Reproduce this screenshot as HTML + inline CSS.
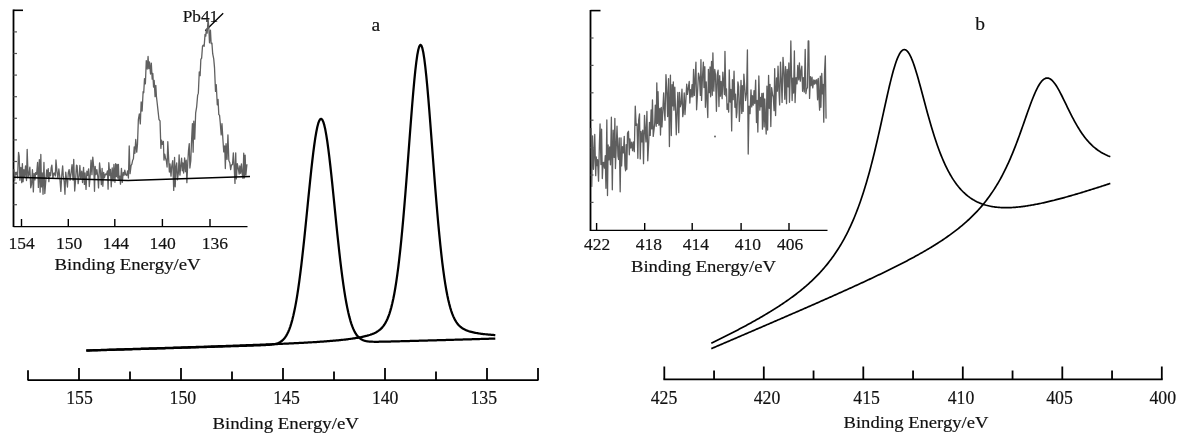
<!DOCTYPE html>
<html><head><meta charset="utf-8"><title>XPS spectra</title>
<style>
html,body{margin:0;padding:0;background:#fff;}
body{width:1185px;height:436px;overflow:hidden;font-family:"Liberation Serif",serif;}
svg{display:block;filter:blur(0.35px);}
svg text{font-family:"Liberation Serif",serif;fill:#111;stroke:#111;stroke-width:0.18;}
</style></head><body>
<svg width="1185" height="436" viewBox="0 0 1185 436">
<rect width="1185" height="436" fill="#fff"/>
<line x1="27.50" y1="380.10" x2="538.50" y2="380.10" stroke="#000" stroke-width="1.8"/>
<line x1="28.00" y1="380.10" x2="28.00" y2="370.20" stroke="#000" stroke-width="1.8"/>
<line x1="79.00" y1="380.10" x2="79.00" y2="368.00" stroke="#000" stroke-width="1.8"/>
<line x1="130.00" y1="380.10" x2="130.00" y2="371.50" stroke="#000" stroke-width="1.8"/>
<line x1="181.00" y1="380.10" x2="181.00" y2="368.00" stroke="#000" stroke-width="1.8"/>
<line x1="232.00" y1="380.10" x2="232.00" y2="371.50" stroke="#000" stroke-width="1.8"/>
<line x1="283.00" y1="380.10" x2="283.00" y2="368.00" stroke="#000" stroke-width="1.8"/>
<line x1="334.00" y1="380.10" x2="334.00" y2="371.50" stroke="#000" stroke-width="1.8"/>
<line x1="385.00" y1="380.10" x2="385.00" y2="368.00" stroke="#000" stroke-width="1.8"/>
<line x1="436.00" y1="380.10" x2="436.00" y2="371.50" stroke="#000" stroke-width="1.8"/>
<line x1="487.00" y1="380.10" x2="487.00" y2="368.00" stroke="#000" stroke-width="1.8"/>
<line x1="538.00" y1="380.10" x2="538.00" y2="368.00" stroke="#000" stroke-width="1.8"/>
<text x="79.50" y="404.10" font-size="18.3" text-anchor="middle" textLength="26.6" lengthAdjust="spacingAndGlyphs">155</text>
<text x="182.90" y="404.10" font-size="18.3" text-anchor="middle" textLength="26.6" lengthAdjust="spacingAndGlyphs">150</text>
<text x="286.50" y="404.10" font-size="18.3" text-anchor="middle" textLength="26.6" lengthAdjust="spacingAndGlyphs">145</text>
<text x="385.20" y="404.10" font-size="18.3" text-anchor="middle" textLength="26.6" lengthAdjust="spacingAndGlyphs">140</text>
<text x="483.80" y="404.10" font-size="18.3" text-anchor="middle" textLength="26.6" lengthAdjust="spacingAndGlyphs">135</text>
<text x="285.70" y="428.50" font-size="17.5" text-anchor="middle" textLength="146.5" lengthAdjust="spacingAndGlyphs">Binding Energy/eV</text>
<text x="375.80" y="30.60" font-size="19.5" text-anchor="middle">a</text>
<path d="M86.30,350.60 L87.30,350.58 L88.30,350.55 L89.30,350.52 L90.30,350.49 L91.30,350.46 L92.30,350.43 L93.30,350.40 L94.30,350.37 L95.30,350.34 L96.30,350.31 L97.30,350.28 L98.30,350.25 L99.30,350.22 L100.30,350.19 L101.30,350.16 L102.30,350.13 L103.30,350.10 L104.30,350.07 L105.30,350.04 L106.30,350.01 L107.30,349.98 L108.30,349.95 L109.30,349.92 L110.30,349.90 L111.30,349.87 L112.30,349.84 L113.30,349.81 L114.30,349.78 L115.30,349.75 L116.30,349.72 L117.30,349.69 L118.30,349.66 L119.30,349.63 L120.30,349.60 L121.30,349.57 L122.30,349.54 L123.30,349.51 L124.30,349.48 L125.30,349.45 L126.30,349.42 L127.30,349.39 L128.30,349.36 L129.30,349.33 L130.30,349.30 L131.30,349.27 L132.30,349.24 L133.30,349.21 L134.30,349.18 L135.30,349.15 L136.30,349.12 L137.30,349.10 L138.30,349.07 L139.30,349.04 L140.30,349.01 L141.30,348.98 L142.30,348.95 L143.30,348.92 L144.30,348.89 L145.30,348.86 L146.30,348.83 L147.30,348.80 L148.30,348.77 L149.30,348.74 L150.30,348.71 L151.30,348.68 L152.30,348.65 L153.30,348.62 L154.30,348.59 L155.30,348.56 L156.30,348.53 L157.30,348.50 L158.30,348.47 L159.30,348.44 L160.30,348.41 L161.30,348.38 L162.30,348.35 L163.30,348.32 L164.30,348.29 L165.30,348.26 L166.30,348.23 L167.30,348.20 L168.30,348.17 L169.30,348.14 L170.30,348.11 L171.30,348.08 L172.30,348.05 L173.30,348.02 L174.30,347.99 L175.30,347.96 L176.30,347.93 L177.30,347.90 L178.30,347.87 L179.30,347.84 L180.30,347.81 L181.30,347.78 L182.30,347.75 L183.30,347.72 L184.30,347.69 L185.30,347.66 L186.30,347.63 L187.30,347.60 L188.30,347.57 L189.30,347.54 L190.30,347.51 L191.30,347.48 L192.30,347.45 L193.30,347.42 L194.30,347.39 L195.30,347.36 L196.30,347.33 L197.30,347.30 L198.30,347.27 L199.30,347.24 L200.30,347.21 L201.30,347.18 L202.30,347.15 L203.30,347.12 L204.30,347.09 L205.30,347.06 L206.30,347.03 L207.30,347.00 L208.30,346.97 L209.30,346.94 L210.30,346.90 L211.30,346.87 L212.30,346.84 L213.30,346.81 L214.30,346.78 L215.30,346.75 L216.30,346.72 L217.30,346.69 L218.30,346.66 L219.30,346.63 L220.30,346.60 L221.30,346.57 L222.30,346.53 L223.30,346.50 L224.30,346.47 L225.30,346.44 L226.30,346.41 L227.30,346.38 L228.30,346.35 L229.30,346.31 L230.30,346.28 L231.30,346.25 L232.30,346.22 L233.30,346.19 L234.30,346.16 L235.30,346.12 L236.30,346.09 L237.30,346.06 L238.30,346.03 L239.30,346.00 L240.30,345.96 L241.30,345.93 L242.30,345.90 L243.30,345.87 L244.30,345.83 L245.30,345.80 L246.30,345.77 L247.30,345.73 L248.30,345.70 L249.30,345.67 L250.30,345.63 L251.30,345.60 L252.30,345.56 L253.30,345.53 L254.30,345.49 L255.30,345.46 L256.30,345.42 L257.30,345.39 L258.30,345.35 L259.30,345.31 L260.30,345.27 L261.30,345.23 L262.30,345.19 L263.30,345.15 L264.30,345.10 L265.30,345.05 L266.30,344.99 L267.30,344.93 L268.30,344.86 L269.30,344.78 L270.30,344.69 L271.30,344.58 L272.30,344.46 L273.30,344.31 L274.30,344.13 L275.30,343.91 L276.30,343.65 L277.30,343.33 L278.30,342.95 L279.30,342.50 L280.30,341.95 L281.30,341.29 L282.30,340.50 L283.30,339.56 L284.30,338.45 L285.30,337.13 L286.30,335.60 L287.30,333.80 L288.30,331.72 L289.30,329.31 L290.30,326.56 L291.30,323.41 L292.30,319.85 L293.30,315.84 L294.30,311.35 L295.30,306.36 L296.30,300.85 L297.30,294.81 L298.30,288.23 L299.30,281.11 L300.30,273.47 L301.30,265.33 L302.30,256.73 L303.30,247.70 L304.30,238.31 L305.30,228.64 L306.30,218.75 L307.30,208.74 L308.30,198.72 L309.30,188.79 L310.30,179.07 L311.30,169.68 L312.30,160.75 L313.30,152.40 L314.30,144.74 L315.30,137.90 L316.30,131.97 L317.30,127.05 L318.30,123.22 L319.30,120.53 L320.30,119.04 L321.30,118.76 L322.30,119.71 L323.30,121.87 L324.30,125.19 L325.30,129.62 L326.30,135.10 L327.30,141.53 L328.30,148.82 L329.30,156.85 L330.30,165.50 L331.30,174.66 L332.30,184.20 L333.30,194.00 L334.30,203.94 L335.30,213.91 L336.30,223.80 L337.30,233.52 L338.30,242.97 L339.30,252.09 L340.30,260.81 L341.30,269.08 L342.30,276.86 L343.30,284.13 L344.30,290.87 L345.30,297.07 L346.30,302.73 L347.30,307.87 L348.30,312.50 L349.30,316.64 L350.30,320.32 L351.30,323.57 L352.30,326.41 L353.30,328.90 L354.30,331.05 L355.30,332.89 L356.30,334.47 L357.30,335.81 L358.30,336.94 L359.30,337.89 L360.30,338.68 L361.30,339.33 L362.30,339.86 L363.30,340.29 L364.30,340.64 L365.30,340.92 L366.30,341.15 L367.30,341.32 L368.30,341.46 L369.30,341.56 L370.30,341.64 L371.30,341.69 L372.30,341.73 L373.30,341.75 L374.30,341.77 L375.30,341.77 L376.30,341.77 L377.30,341.77 L378.30,341.76 L379.30,341.74 L380.30,341.73 L381.30,341.71 L382.30,341.69 L383.30,341.67 L384.30,341.65 L385.30,341.63 L386.30,341.60 L387.30,341.58 L388.30,341.56 L389.30,341.53 L390.30,341.51 L391.30,341.48 L392.30,341.46 L393.30,341.43 L394.30,341.41 L395.30,341.38 L396.30,341.36 L397.30,341.33 L398.30,341.31 L399.30,341.28 L400.30,341.25 L401.30,341.23 L402.30,341.20 L403.30,341.17 L404.30,341.15 L405.30,341.12 L406.30,341.09 L407.30,341.07 L408.30,341.04 L409.30,341.01 L410.30,340.99 L411.30,340.96 L412.30,340.93 L413.30,340.90 L414.30,340.88 L415.30,340.85 L416.30,340.82 L417.30,340.79 L418.30,340.77 L419.30,340.74 L420.30,340.71 L421.30,340.68 L422.30,340.66 L423.30,340.63 L424.30,340.60 L425.30,340.57 L426.30,340.54 L427.30,340.52 L428.30,340.49 L429.30,340.46 L430.30,340.43 L431.30,340.40 L432.30,340.38 L433.30,340.35 L434.30,340.32 L435.30,340.29 L436.30,340.26 L437.30,340.23 L438.30,340.21 L439.30,340.18 L440.30,340.15 L441.30,340.12 L442.30,340.09 L443.30,340.06 L444.30,340.04 L445.30,340.01 L446.30,339.98 L447.30,339.95 L448.30,339.92 L449.30,339.89 L450.30,339.86 L451.30,339.84 L452.30,339.81 L453.30,339.78 L454.30,339.75 L455.30,339.72 L456.30,339.69 L457.30,339.66 L458.30,339.63 L459.30,339.61 L460.30,339.58 L461.30,339.55 L462.30,339.52 L463.30,339.49 L464.30,339.46 L465.30,339.43 L466.30,339.40 L467.30,339.37 L468.30,339.35 L469.30,339.32 L470.30,339.29 L471.30,339.26 L472.30,339.23 L473.30,339.20 L474.30,339.17 L475.30,339.14 L476.30,339.11 L477.30,339.09 L478.30,339.06 L479.30,339.03 L480.30,339.00 L481.30,338.97 L482.30,338.94 L483.30,338.91 L484.30,338.88 L485.30,338.85 L486.30,338.82 L487.30,338.80 L488.30,338.77 L489.30,338.74 L490.30,338.71 L491.30,338.68 L492.30,338.65 L493.30,338.62 L494.30,338.59 L495.30,338.56" fill="none" stroke="#000" stroke-width="2.25" stroke-linejoin="round" stroke-linecap="butt" />
<path d="M86.30,350.44 L87.30,350.41 L88.30,350.38 L89.30,350.35 L90.30,350.32 L91.30,350.28 L92.30,350.25 L93.30,350.22 L94.30,350.19 L95.30,350.16 L96.30,350.13 L97.30,350.10 L98.30,350.07 L99.30,350.04 L100.30,350.01 L101.30,349.98 L102.30,349.95 L103.30,349.92 L104.30,349.89 L105.30,349.86 L106.30,349.83 L107.30,349.79 L108.30,349.76 L109.30,349.73 L110.30,349.70 L111.30,349.67 L112.30,349.64 L113.30,349.61 L114.30,349.58 L115.30,349.55 L116.30,349.52 L117.30,349.49 L118.30,349.46 L119.30,349.42 L120.30,349.39 L121.30,349.36 L122.30,349.33 L123.30,349.30 L124.30,349.27 L125.30,349.24 L126.30,349.21 L127.30,349.18 L128.30,349.15 L129.30,349.11 L130.30,349.08 L131.30,349.05 L132.30,349.02 L133.30,348.99 L134.30,348.96 L135.30,348.93 L136.30,348.90 L137.30,348.87 L138.30,348.83 L139.30,348.80 L140.30,348.77 L141.30,348.74 L142.30,348.71 L143.30,348.68 L144.30,348.65 L145.30,348.62 L146.30,348.58 L147.30,348.55 L148.30,348.52 L149.30,348.49 L150.30,348.46 L151.30,348.43 L152.30,348.40 L153.30,348.36 L154.30,348.33 L155.30,348.30 L156.30,348.27 L157.30,348.24 L158.30,348.21 L159.30,348.17 L160.30,348.14 L161.30,348.11 L162.30,348.08 L163.30,348.05 L164.30,348.02 L165.30,347.98 L166.30,347.95 L167.30,347.92 L168.30,347.89 L169.30,347.86 L170.30,347.82 L171.30,347.79 L172.30,347.76 L173.30,347.73 L174.30,347.70 L175.30,347.66 L176.30,347.63 L177.30,347.60 L178.30,347.57 L179.30,347.53 L180.30,347.50 L181.30,347.47 L182.30,347.44 L183.30,347.40 L184.30,347.37 L185.30,347.34 L186.30,347.31 L187.30,347.27 L188.30,347.24 L189.30,347.21 L190.30,347.18 L191.30,347.14 L192.30,347.11 L193.30,347.08 L194.30,347.04 L195.30,347.01 L196.30,346.98 L197.30,346.95 L198.30,346.91 L199.30,346.88 L200.30,346.85 L201.30,346.81 L202.30,346.78 L203.30,346.75 L204.30,346.71 L205.30,346.68 L206.30,346.65 L207.30,346.61 L208.30,346.58 L209.30,346.55 L210.30,346.51 L211.30,346.48 L212.30,346.44 L213.30,346.41 L214.30,346.38 L215.30,346.34 L216.30,346.31 L217.30,346.27 L218.30,346.24 L219.30,346.20 L220.30,346.17 L221.30,346.14 L222.30,346.10 L223.30,346.07 L224.30,346.03 L225.30,346.00 L226.30,345.96 L227.30,345.93 L228.30,345.89 L229.30,345.86 L230.30,345.82 L231.30,345.79 L232.30,345.75 L233.30,345.72 L234.30,345.68 L235.30,345.64 L236.30,345.61 L237.30,345.57 L238.30,345.54 L239.30,345.50 L240.30,345.46 L241.30,345.43 L242.30,345.39 L243.30,345.35 L244.30,345.32 L245.30,345.28 L246.30,345.24 L247.30,345.21 L248.30,345.17 L249.30,345.13 L250.30,345.09 L251.30,345.06 L252.30,345.02 L253.30,344.98 L254.30,344.94 L255.30,344.90 L256.30,344.87 L257.30,344.83 L258.30,344.79 L259.30,344.75 L260.30,344.71 L261.30,344.67 L262.30,344.63 L263.30,344.59 L264.30,344.55 L265.30,344.51 L266.30,344.47 L267.30,344.43 L268.30,344.39 L269.30,344.35 L270.30,344.31 L271.30,344.27 L272.30,344.23 L273.30,344.18 L274.30,344.14 L275.30,344.10 L276.30,344.06 L277.30,344.01 L278.30,343.97 L279.30,343.93 L280.30,343.88 L281.30,343.84 L282.30,343.79 L283.30,343.75 L284.30,343.70 L285.30,343.66 L286.30,343.61 L287.30,343.57 L288.30,343.52 L289.30,343.47 L290.30,343.43 L291.30,343.38 L292.30,343.33 L293.30,343.28 L294.30,343.23 L295.30,343.18 L296.30,343.13 L297.30,343.08 L298.30,343.03 L299.30,342.98 L300.30,342.93 L301.30,342.88 L302.30,342.82 L303.30,342.77 L304.30,342.71 L305.30,342.66 L306.30,342.60 L307.30,342.55 L308.30,342.49 L309.30,342.43 L310.30,342.37 L311.30,342.32 L312.30,342.25 L313.30,342.19 L314.30,342.13 L315.30,342.07 L316.30,342.01 L317.30,341.94 L318.30,341.88 L319.30,341.81 L320.30,341.74 L321.30,341.67 L322.30,341.60 L323.30,341.53 L324.30,341.46 L325.30,341.38 L326.30,341.31 L327.30,341.23 L328.30,341.15 L329.30,341.07 L330.30,340.99 L331.30,340.91 L332.30,340.82 L333.30,340.74 L334.30,340.65 L335.30,340.56 L336.30,340.47 L337.30,340.37 L338.30,340.27 L339.30,340.17 L340.30,340.07 L341.30,339.97 L342.30,339.86 L343.30,339.75 L344.30,339.63 L345.30,339.52 L346.30,339.40 L347.30,339.27 L348.30,339.15 L349.30,339.01 L350.30,338.88 L351.30,338.74 L352.30,338.59 L353.30,338.45 L354.30,338.29 L355.30,338.13 L356.30,337.97 L357.30,337.79 L358.30,337.61 L359.30,337.43 L360.30,337.24 L361.30,337.04 L362.30,336.83 L363.30,336.61 L364.30,336.38 L365.30,336.14 L366.30,335.88 L367.30,335.62 L368.30,335.33 L369.30,335.04 L370.30,334.72 L371.30,334.37 L372.30,334.00 L373.30,333.60 L374.30,333.17 L375.30,332.69 L376.30,332.17 L377.30,331.58 L378.30,330.93 L379.30,330.20 L380.30,329.37 L381.30,328.43 L382.30,327.36 L383.30,326.14 L384.30,324.75 L385.30,323.15 L386.30,321.31 L387.30,319.21 L388.30,316.80 L389.30,314.05 L390.30,310.92 L391.30,307.36 L392.30,303.33 L393.30,298.79 L394.30,293.70 L395.30,288.01 L396.30,281.69 L397.30,274.71 L398.30,267.06 L399.30,258.70 L400.30,249.64 L401.30,239.88 L402.30,229.44 L403.30,218.35 L404.30,206.68 L405.30,194.47 L406.30,181.81 L407.30,168.81 L408.30,155.58 L409.30,142.27 L410.30,129.03 L411.30,116.04 L412.30,103.49 L413.30,91.59 L414.30,80.58 L415.30,70.66 L416.30,62.07 L417.30,55.03 L418.30,49.72 L419.30,46.29 L420.30,44.84 L421.30,45.42 L422.30,48.00 L423.30,52.52 L424.30,58.84 L425.30,66.77 L426.30,76.12 L427.30,86.67 L428.30,98.18 L429.30,110.44 L430.30,123.22 L431.30,136.32 L432.30,149.57 L433.30,162.79 L434.30,175.83 L435.30,188.58 L436.30,200.92 L437.30,212.76 L438.30,224.03 L439.30,234.67 L440.30,244.65 L441.30,253.93 L442.30,262.51 L443.30,270.39 L444.30,277.58 L445.30,284.10 L446.30,289.98 L447.30,295.25 L448.30,299.94 L449.30,304.11 L450.30,307.80 L451.30,311.04 L452.30,313.88 L453.30,316.36 L454.30,318.52 L455.30,320.40 L456.30,322.03 L457.30,323.44 L458.30,324.67 L459.30,325.74 L460.30,326.67 L461.30,327.48 L462.30,328.19 L463.30,328.81 L464.30,329.36 L465.30,329.85 L466.30,330.29 L467.30,330.68 L468.30,331.04 L469.30,331.36 L470.30,331.65 L471.30,331.92 L472.30,332.17 L473.30,332.40 L474.30,332.61 L475.30,332.81 L476.30,333.00 L477.30,333.18 L478.30,333.34 L479.30,333.49 L480.30,333.64 L481.30,333.78 L482.30,333.91 L483.30,334.03 L484.30,334.14 L485.30,334.25 L486.30,334.36 L487.30,334.45 L488.30,334.55 L489.30,334.63 L490.30,334.72 L491.30,334.80 L492.30,334.87 L493.30,334.94 L494.30,335.01 L495.30,335.07" fill="none" stroke="#000" stroke-width="2.25" stroke-linejoin="round" stroke-linecap="butt" />
<line x1="663.40" y1="379.40" x2="1162.70" y2="379.40" stroke="#000" stroke-width="1.8"/>
<line x1="664.30" y1="379.40" x2="664.30" y2="366.50" stroke="#000" stroke-width="1.8"/>
<line x1="714.05" y1="379.40" x2="714.05" y2="370.50" stroke="#000" stroke-width="1.8"/>
<line x1="763.80" y1="379.40" x2="763.80" y2="366.50" stroke="#000" stroke-width="1.8"/>
<line x1="813.55" y1="379.40" x2="813.55" y2="370.50" stroke="#000" stroke-width="1.8"/>
<line x1="863.30" y1="379.40" x2="863.30" y2="366.50" stroke="#000" stroke-width="1.8"/>
<line x1="913.05" y1="379.40" x2="913.05" y2="370.50" stroke="#000" stroke-width="1.8"/>
<line x1="962.80" y1="379.40" x2="962.80" y2="366.50" stroke="#000" stroke-width="1.8"/>
<line x1="1012.55" y1="379.40" x2="1012.55" y2="370.50" stroke="#000" stroke-width="1.8"/>
<line x1="1062.30" y1="379.40" x2="1062.30" y2="366.50" stroke="#000" stroke-width="1.8"/>
<line x1="1112.05" y1="379.40" x2="1112.05" y2="370.50" stroke="#000" stroke-width="1.8"/>
<line x1="1161.80" y1="379.40" x2="1161.80" y2="366.50" stroke="#000" stroke-width="1.8"/>
<text x="664.00" y="403.60" font-size="18.3" text-anchor="middle" textLength="26.6" lengthAdjust="spacingAndGlyphs">425</text>
<text x="767.00" y="403.60" font-size="18.3" text-anchor="middle" textLength="26.6" lengthAdjust="spacingAndGlyphs">420</text>
<text x="866.60" y="403.60" font-size="18.3" text-anchor="middle" textLength="26.6" lengthAdjust="spacingAndGlyphs">415</text>
<text x="961.00" y="403.60" font-size="18.3" text-anchor="middle" textLength="26.6" lengthAdjust="spacingAndGlyphs">410</text>
<text x="1059.50" y="403.60" font-size="18.3" text-anchor="middle" textLength="26.6" lengthAdjust="spacingAndGlyphs">405</text>
<text x="1162.80" y="403.60" font-size="18.3" text-anchor="middle" textLength="26.6" lengthAdjust="spacingAndGlyphs">400</text>
<text x="916.00" y="428.20" font-size="17.5" text-anchor="middle" textLength="145" lengthAdjust="spacingAndGlyphs">Binding Energy/eV</text>
<text x="980.00" y="30.40" font-size="19.5" text-anchor="middle">b</text>
<path d="M711.30,343.30 L712.30,342.81 L713.30,342.32 L714.30,341.83 L715.30,341.33 L716.30,340.84 L717.30,340.34 L718.30,339.85 L719.30,339.35 L720.30,338.85 L721.30,338.35 L722.30,337.85 L723.30,337.35 L724.30,336.85 L725.30,336.34 L726.30,335.83 L727.30,335.33 L728.30,334.82 L729.30,334.31 L730.30,333.80 L731.30,333.28 L732.30,332.77 L733.30,332.25 L734.30,331.74 L735.30,331.22 L736.30,330.69 L737.30,330.17 L738.30,329.65 L739.30,329.12 L740.30,328.59 L741.30,328.06 L742.30,327.53 L743.30,327.00 L744.30,326.46 L745.30,325.92 L746.30,325.38 L747.30,324.84 L748.30,324.30 L749.30,323.75 L750.30,323.20 L751.30,322.65 L752.30,322.10 L753.30,321.54 L754.30,320.98 L755.30,320.42 L756.30,319.86 L757.30,319.29 L758.30,318.72 L759.30,318.15 L760.30,317.57 L761.30,316.99 L762.30,316.41 L763.30,315.82 L764.30,315.24 L765.30,314.64 L766.30,314.05 L767.30,313.45 L768.30,312.85 L769.30,312.24 L770.30,311.63 L771.30,311.02 L772.30,310.40 L773.30,309.77 L774.30,309.15 L775.30,308.52 L776.30,307.88 L777.30,307.24 L778.30,306.59 L779.30,305.94 L780.30,305.29 L781.30,304.62 L782.30,303.96 L783.30,303.29 L784.30,302.61 L785.30,301.92 L786.30,301.23 L787.30,300.54 L788.30,299.83 L789.30,299.12 L790.30,298.41 L791.30,297.68 L792.30,296.95 L793.30,296.21 L794.30,295.46 L795.30,294.71 L796.30,293.95 L797.30,293.17 L798.30,292.39 L799.30,291.60 L800.30,290.80 L801.30,289.99 L802.30,289.17 L803.30,288.34 L804.30,287.50 L805.30,286.65 L806.30,285.79 L807.30,284.91 L808.30,284.02 L809.30,283.12 L810.30,282.21 L811.30,281.28 L812.30,280.34 L813.30,279.38 L814.30,278.41 L815.30,277.43 L816.30,276.42 L817.30,275.40 L818.30,274.37 L819.30,273.31 L820.30,272.24 L821.30,271.14 L822.30,270.03 L823.30,268.89 L824.30,267.74 L825.30,266.56 L826.30,265.36 L827.30,264.13 L828.30,262.88 L829.30,261.60 L830.30,260.30 L831.30,258.96 L832.30,257.60 L833.30,256.21 L834.30,254.79 L835.30,253.33 L836.30,251.84 L837.30,250.32 L838.30,248.76 L839.30,247.16 L840.30,245.52 L841.30,243.84 L842.30,242.12 L843.30,240.35 L844.30,238.54 L845.30,236.68 L846.30,234.77 L847.30,232.81 L848.30,230.79 L849.30,228.72 L850.30,226.59 L851.30,224.41 L852.30,222.16 L853.30,219.85 L854.30,217.47 L855.30,215.02 L856.30,212.51 L857.30,209.92 L858.30,207.25 L859.30,204.51 L860.30,201.69 L861.30,198.79 L862.30,195.80 L863.30,192.73 L864.30,189.57 L865.30,186.32 L866.30,182.98 L867.30,179.55 L868.30,176.02 L869.30,172.41 L870.30,168.70 L871.30,164.90 L872.30,161.01 L873.30,157.02 L874.30,152.96 L875.30,148.80 L876.30,144.57 L877.30,140.27 L878.30,135.90 L879.30,131.47 L880.30,126.98 L881.30,122.46 L882.30,117.91 L883.30,113.34 L884.30,108.77 L885.30,104.22 L886.30,99.71 L887.30,95.24 L888.30,90.85 L889.30,86.56 L890.30,82.39 L891.30,78.36 L892.30,74.51 L893.30,70.84 L894.30,67.40 L895.30,64.20 L896.30,61.27 L897.30,58.62 L898.30,56.29 L899.30,54.28 L900.30,52.62 L901.30,51.31 L902.30,50.37 L903.30,49.79 L904.30,49.59 L905.30,49.76 L906.30,50.28 L907.30,51.17 L908.30,52.39 L909.30,53.95 L910.30,55.81 L911.30,57.95 L912.30,60.37 L913.30,63.02 L914.30,65.90 L915.30,68.96 L916.30,72.19 L917.30,75.57 L918.30,79.06 L919.30,82.65 L920.30,86.31 L921.30,90.02 L922.30,93.77 L923.30,97.53 L924.30,101.29 L925.30,105.03 L926.30,108.74 L927.30,112.41 L928.30,116.03 L929.30,119.59 L930.30,123.08 L931.30,126.50 L932.30,129.84 L933.30,133.09 L934.30,136.26 L935.30,139.34 L936.30,142.32 L937.30,145.22 L938.30,148.02 L939.30,150.73 L940.30,153.34 L941.30,155.87 L942.30,158.30 L943.30,160.65 L944.30,162.91 L945.30,165.08 L946.30,167.17 L947.30,169.18 L948.30,171.10 L949.30,172.96 L950.30,174.73 L951.30,176.44 L952.30,178.07 L953.30,179.64 L954.30,181.13 L955.30,182.57 L956.30,183.94 L957.30,185.26 L958.30,186.52 L959.30,187.72 L960.30,188.87 L961.30,189.97 L962.30,191.02 L963.30,192.02 L964.30,192.97 L965.30,193.89 L966.30,194.76 L967.30,195.58 L968.30,196.37 L969.30,197.12 L970.30,197.84 L971.30,198.52 L972.30,199.16 L973.30,199.78 L974.30,200.36 L975.30,200.91 L976.30,201.43 L977.30,201.93 L978.30,202.40 L979.30,202.84 L980.30,203.25 L981.30,203.65 L982.30,204.02 L983.30,204.36 L984.30,204.69 L985.30,204.99 L986.30,205.28 L987.30,205.54 L988.30,205.79 L989.30,206.02 L990.30,206.23 L991.30,206.43 L992.30,206.60 L993.30,206.77 L994.30,206.91 L995.30,207.05 L996.30,207.17 L997.30,207.27 L998.30,207.36 L999.30,207.44 L1000.30,207.51 L1001.30,207.57 L1002.30,207.61 L1003.30,207.64 L1004.30,207.66 L1005.30,207.68 L1006.30,207.68 L1007.30,207.67 L1008.30,207.65 L1009.30,207.62 L1010.30,207.59 L1011.30,207.54 L1012.30,207.49 L1013.30,207.43 L1014.30,207.36 L1015.30,207.28 L1016.30,207.20 L1017.30,207.11 L1018.30,207.01 L1019.30,206.91 L1020.30,206.79 L1021.30,206.68 L1022.30,206.55 L1023.30,206.42 L1024.30,206.29 L1025.30,206.15 L1026.30,206.00 L1027.30,205.85 L1028.30,205.69 L1029.30,205.53 L1030.30,205.36 L1031.30,205.19 L1032.30,205.02 L1033.30,204.84 L1034.30,204.65 L1035.30,204.46 L1036.30,204.27 L1037.30,204.07 L1038.30,203.87 L1039.30,203.67 L1040.30,203.46 L1041.30,203.24 L1042.30,203.03 L1043.30,202.81 L1044.30,202.59 L1045.30,202.36 L1046.30,202.13 L1047.30,201.90 L1048.30,201.67 L1049.30,201.43 L1050.30,201.19 L1051.30,200.94 L1052.30,200.70 L1053.30,200.45 L1054.30,200.20 L1055.30,199.94 L1056.30,199.69 L1057.30,199.43 L1058.30,199.17 L1059.30,198.91 L1060.30,198.64 L1061.30,198.37 L1062.30,198.10 L1063.30,197.83 L1064.30,197.56 L1065.30,197.28 L1066.30,197.00 L1067.30,196.72 L1068.30,196.44 L1069.30,196.16 L1070.30,195.88 L1071.30,195.59 L1072.30,195.30 L1073.30,195.01 L1074.30,194.72 L1075.30,194.43 L1076.30,194.13 L1077.30,193.84 L1078.30,193.54 L1079.30,193.24 L1080.30,192.94 L1081.30,192.64 L1082.30,192.34 L1083.30,192.03 L1084.30,191.73 L1085.30,191.42 L1086.30,191.11 L1087.30,190.80 L1088.30,190.49 L1089.30,190.18 L1090.30,189.87 L1091.30,189.56 L1092.30,189.24 L1093.30,188.93 L1094.30,188.61 L1095.30,188.29 L1096.30,187.97 L1097.30,187.65 L1098.30,187.33 L1099.30,187.01 L1100.30,186.69 L1101.30,186.37 L1102.30,186.04 L1103.30,185.72 L1104.30,185.39 L1105.30,185.07 L1106.30,184.74 L1107.30,184.41 L1108.30,184.08 L1109.30,183.75 L1110.30,183.42" fill="none" stroke="#000" stroke-width="1.7" stroke-linejoin="round" stroke-linecap="butt" />
<path d="M711.30,348.64 L712.30,348.21 L713.30,347.78 L714.30,347.36 L715.30,346.93 L716.30,346.50 L717.30,346.07 L718.30,345.64 L719.30,345.21 L720.30,344.78 L721.30,344.35 L722.30,343.93 L723.30,343.50 L724.30,343.07 L725.30,342.64 L726.30,342.21 L727.30,341.78 L728.30,341.35 L729.30,340.92 L730.30,340.49 L731.30,340.07 L732.30,339.64 L733.30,339.21 L734.30,338.78 L735.30,338.35 L736.30,337.92 L737.30,337.49 L738.30,337.06 L739.30,336.63 L740.30,336.20 L741.30,335.77 L742.30,335.34 L743.30,334.91 L744.30,334.49 L745.30,334.06 L746.30,333.63 L747.30,333.20 L748.30,332.77 L749.30,332.34 L750.30,331.91 L751.30,331.48 L752.30,331.05 L753.30,330.62 L754.30,330.19 L755.30,329.76 L756.30,329.33 L757.30,328.90 L758.30,328.47 L759.30,328.04 L760.30,327.61 L761.30,327.18 L762.30,326.74 L763.30,326.31 L764.30,325.88 L765.30,325.45 L766.30,325.02 L767.30,324.59 L768.30,324.16 L769.30,323.73 L770.30,323.30 L771.30,322.86 L772.30,322.43 L773.30,322.00 L774.30,321.57 L775.30,321.14 L776.30,320.71 L777.30,320.27 L778.30,319.84 L779.30,319.41 L780.30,318.98 L781.30,318.54 L782.30,318.11 L783.30,317.68 L784.30,317.25 L785.30,316.81 L786.30,316.38 L787.30,315.95 L788.30,315.51 L789.30,315.08 L790.30,314.64 L791.30,314.21 L792.30,313.78 L793.30,313.34 L794.30,312.91 L795.30,312.47 L796.30,312.04 L797.30,311.60 L798.30,311.17 L799.30,310.73 L800.30,310.29 L801.30,309.86 L802.30,309.42 L803.30,308.99 L804.30,308.55 L805.30,308.11 L806.30,307.68 L807.30,307.24 L808.30,306.80 L809.30,306.36 L810.30,305.92 L811.30,305.49 L812.30,305.05 L813.30,304.61 L814.30,304.17 L815.30,303.73 L816.30,303.29 L817.30,302.85 L818.30,302.41 L819.30,301.97 L820.30,301.53 L821.30,301.09 L822.30,300.65 L823.30,300.20 L824.30,299.76 L825.30,299.32 L826.30,298.88 L827.30,298.43 L828.30,297.99 L829.30,297.55 L830.30,297.10 L831.30,296.66 L832.30,296.21 L833.30,295.77 L834.30,295.32 L835.30,294.87 L836.30,294.43 L837.30,293.98 L838.30,293.53 L839.30,293.08 L840.30,292.64 L841.30,292.19 L842.30,291.74 L843.30,291.29 L844.30,290.84 L845.30,290.38 L846.30,289.93 L847.30,289.48 L848.30,289.03 L849.30,288.57 L850.30,288.12 L851.30,287.67 L852.30,287.21 L853.30,286.75 L854.30,286.30 L855.30,285.84 L856.30,285.38 L857.30,284.92 L858.30,284.46 L859.30,284.00 L860.30,283.54 L861.30,283.08 L862.30,282.62 L863.30,282.16 L864.30,281.69 L865.30,281.23 L866.30,280.76 L867.30,280.30 L868.30,279.83 L869.30,279.36 L870.30,278.89 L871.30,278.42 L872.30,277.95 L873.30,277.48 L874.30,277.01 L875.30,276.53 L876.30,276.06 L877.30,275.58 L878.30,275.10 L879.30,274.63 L880.30,274.15 L881.30,273.67 L882.30,273.18 L883.30,272.70 L884.30,272.22 L885.30,271.73 L886.30,271.24 L887.30,270.75 L888.30,270.26 L889.30,269.77 L890.30,269.28 L891.30,268.79 L892.30,268.29 L893.30,267.79 L894.30,267.29 L895.30,266.79 L896.30,266.29 L897.30,265.79 L898.30,265.28 L899.30,264.77 L900.30,264.26 L901.30,263.75 L902.30,263.24 L903.30,262.72 L904.30,262.20 L905.30,261.68 L906.30,261.16 L907.30,260.63 L908.30,260.11 L909.30,259.58 L910.30,259.04 L911.30,258.51 L912.30,257.97 L913.30,257.43 L914.30,256.89 L915.30,256.34 L916.30,255.80 L917.30,255.24 L918.30,254.69 L919.30,254.13 L920.30,253.57 L921.30,253.01 L922.30,252.44 L923.30,251.87 L924.30,251.29 L925.30,250.71 L926.30,250.13 L927.30,249.54 L928.30,248.95 L929.30,248.36 L930.30,247.76 L931.30,247.15 L932.30,246.55 L933.30,245.93 L934.30,245.31 L935.30,244.69 L936.30,244.06 L937.30,243.43 L938.30,242.79 L939.30,242.15 L940.30,241.50 L941.30,240.84 L942.30,240.18 L943.30,239.51 L944.30,238.83 L945.30,238.15 L946.30,237.46 L947.30,236.76 L948.30,236.06 L949.30,235.35 L950.30,234.63 L951.30,233.90 L952.30,233.17 L953.30,232.42 L954.30,231.67 L955.30,230.91 L956.30,230.13 L957.30,229.35 L958.30,228.56 L959.30,227.76 L960.30,226.94 L961.30,226.12 L962.30,225.28 L963.30,224.44 L964.30,223.58 L965.30,222.70 L966.30,221.82 L967.30,220.92 L968.30,220.00 L969.30,219.07 L970.30,218.13 L971.30,217.17 L972.30,216.19 L973.30,215.20 L974.30,214.19 L975.30,213.16 L976.30,212.11 L977.30,211.05 L978.30,209.96 L979.30,208.85 L980.30,207.72 L981.30,206.57 L982.30,205.39 L983.30,204.19 L984.30,202.97 L985.30,201.72 L986.30,200.44 L987.30,199.13 L988.30,197.80 L989.30,196.43 L990.30,195.03 L991.30,193.60 L992.30,192.14 L993.30,190.64 L994.30,189.10 L995.30,187.53 L996.30,185.91 L997.30,184.26 L998.30,182.56 L999.30,180.83 L1000.30,179.04 L1001.30,177.22 L1002.30,175.34 L1003.30,173.42 L1004.30,171.45 L1005.30,169.43 L1006.30,167.35 L1007.30,165.23 L1008.30,163.05 L1009.30,160.82 L1010.30,158.54 L1011.30,156.20 L1012.30,153.81 L1013.30,151.36 L1014.30,148.87 L1015.30,146.32 L1016.30,143.72 L1017.30,141.08 L1018.30,138.40 L1019.30,135.67 L1020.30,132.91 L1021.30,130.11 L1022.30,127.29 L1023.30,124.45 L1024.30,121.60 L1025.30,118.74 L1026.30,115.89 L1027.30,113.05 L1028.30,110.24 L1029.30,107.46 L1030.30,104.73 L1031.30,102.06 L1032.30,99.46 L1033.30,96.96 L1034.30,94.55 L1035.30,92.26 L1036.30,90.10 L1037.30,88.08 L1038.30,86.21 L1039.30,84.52 L1040.30,83.00 L1041.30,81.68 L1042.30,80.55 L1043.30,79.62 L1044.30,78.90 L1045.30,78.40 L1046.30,78.10 L1047.30,78.02 L1048.30,78.15 L1049.30,78.49 L1050.30,79.02 L1051.30,79.74 L1052.30,80.64 L1053.30,81.71 L1054.30,82.93 L1055.30,84.30 L1056.30,85.80 L1057.30,87.42 L1058.30,89.13 L1059.30,90.94 L1060.30,92.82 L1061.30,94.76 L1062.30,96.75 L1063.30,98.78 L1064.30,100.84 L1065.30,102.90 L1066.30,104.97 L1067.30,107.04 L1068.30,109.10 L1069.30,111.14 L1070.30,113.15 L1071.30,115.13 L1072.30,117.07 L1073.30,118.98 L1074.30,120.84 L1075.30,122.65 L1076.30,124.42 L1077.30,126.13 L1078.30,127.79 L1079.30,129.40 L1080.30,130.96 L1081.30,132.46 L1082.30,133.91 L1083.30,135.31 L1084.30,136.65 L1085.30,137.94 L1086.30,139.18 L1087.30,140.37 L1088.30,141.51 L1089.30,142.61 L1090.30,143.65 L1091.30,144.65 L1092.30,145.61 L1093.30,146.52 L1094.30,147.39 L1095.30,148.22 L1096.30,149.01 L1097.30,149.77 L1098.30,150.49 L1099.30,151.17 L1100.30,151.82 L1101.30,152.43 L1102.30,153.01 L1103.30,153.57 L1104.30,154.09 L1105.30,154.59 L1106.30,155.06 L1107.30,155.50 L1108.30,155.92 L1109.30,156.31 L1110.30,156.68" fill="none" stroke="#000" stroke-width="1.7" stroke-linejoin="round" stroke-linecap="butt" />
<line x1="13.50" y1="9.50" x2="13.50" y2="227.00" stroke="#000" stroke-width="1.8"/>
<line x1="13.50" y1="226.60" x2="247.50" y2="226.60" stroke="#000" stroke-width="1.4"/>
<line x1="13.50" y1="10.30" x2="23.00" y2="10.30" stroke="#000" stroke-width="1.6"/>
<line x1="13.50" y1="31.90" x2="17.00" y2="31.90" stroke="#555" stroke-width="1.2"/>
<line x1="13.50" y1="53.50" x2="17.00" y2="53.50" stroke="#555" stroke-width="1.2"/>
<line x1="13.50" y1="75.10" x2="17.00" y2="75.10" stroke="#555" stroke-width="1.2"/>
<line x1="13.50" y1="96.70" x2="17.00" y2="96.70" stroke="#555" stroke-width="1.2"/>
<line x1="13.50" y1="118.30" x2="17.00" y2="118.30" stroke="#555" stroke-width="1.2"/>
<line x1="13.50" y1="139.90" x2="17.00" y2="139.90" stroke="#555" stroke-width="1.2"/>
<line x1="13.50" y1="161.50" x2="17.00" y2="161.50" stroke="#555" stroke-width="1.2"/>
<line x1="13.50" y1="183.10" x2="17.00" y2="183.10" stroke="#555" stroke-width="1.2"/>
<line x1="13.50" y1="204.70" x2="17.00" y2="204.70" stroke="#555" stroke-width="1.2"/>
<line x1="21.50" y1="226.50" x2="21.50" y2="219.00" stroke="#000" stroke-width="1.4"/>
<line x1="68.30" y1="226.50" x2="68.30" y2="219.00" stroke="#000" stroke-width="1.4"/>
<line x1="114.80" y1="226.50" x2="114.80" y2="219.00" stroke="#000" stroke-width="1.4"/>
<line x1="162.40" y1="226.50" x2="162.40" y2="219.00" stroke="#000" stroke-width="1.4"/>
<line x1="210.00" y1="226.50" x2="210.00" y2="219.00" stroke="#000" stroke-width="1.4"/>
<text x="21.70" y="249.00" font-size="17.5" text-anchor="middle">154</text>
<text x="69.00" y="249.00" font-size="17.5" text-anchor="middle">150</text>
<text x="115.80" y="249.00" font-size="17.5" text-anchor="middle">144</text>
<text x="162.70" y="249.00" font-size="17.5" text-anchor="middle">140</text>
<text x="214.80" y="249.00" font-size="17.5" text-anchor="middle">136</text>
<text x="127.60" y="270.00" font-size="17.5" text-anchor="middle" textLength="146" lengthAdjust="spacingAndGlyphs">Binding Energy/eV</text>
<text x="182.70" y="22.20" font-size="17.3" text-anchor="start">Pb41</text>
<line x1="223.20" y1="13.20" x2="205.30" y2="30.80" stroke="#000" stroke-width="1.3"/>
<path d="M14.00,169.27 L14.63,180.49 L15.40,172.28 L16.19,174.38 L16.83,172.21 L17.53,177.74 L18.56,152.35 L19.18,156.01 L19.91,180.28 L20.88,167.42 L21.74,182.62 L22.37,163.55 L23.06,181.71 L23.92,169.77 L24.66,176.54 L25.52,165.87 L26.51,180.58 L27.17,149.36 L28.11,176.98 L29.01,174.07 L29.86,167.16 L30.73,187.79 L31.54,184.43 L32.44,169.71 L33.35,191.93 L34.08,173.34 L34.98,179.90 L35.63,172.58 L36.58,174.44 L37.57,162.48 L38.37,187.36 L39.36,159.61 L40.15,192.14 L40.82,154.43 L41.52,186.91 L42.24,172.81 L43.03,194.25 L43.94,162.41 L44.82,193.51 L45.77,181.08 L46.73,169.83 L47.61,176.93 L48.24,168.63 L48.87,181.68 L49.53,172.53 L50.53,175.93 L51.19,167.81 L51.85,165.05 L52.90,178.31 L53.54,173.79 L54.26,172.94 L55.29,176.04 L55.96,159.96 L57.00,171.84 L57.91,178.14 L58.86,168.97 L59.81,177.23 L60.85,191.41 L61.81,174.73 L62.65,165.80 L63.26,175.65 L64.17,181.53 L64.97,194.25 L65.74,172.08 L66.44,178.06 L67.44,187.05 L68.26,172.77 L69.16,169.54 L70.11,180.20 L71.06,173.28 L72.02,164.76 L73.05,180.16 L73.73,159.31 L74.69,191.06 L75.66,179.16 L76.51,165.09 L77.11,165.74 L78.13,183.69 L79.13,176.05 L79.86,165.52 L80.72,178.70 L81.73,171.23 L82.54,182.48 L83.55,167.28 L84.39,184.46 L85.07,172.80 L86.03,189.36 L86.88,171.14 L87.72,175.26 L88.57,168.81 L89.29,186.49 L90.24,174.89 L91.03,160.08 L91.95,174.70 L92.79,157.12 L93.78,167.69 L94.50,191.34 L95.16,166.37 L95.96,174.52 L96.86,169.68 L97.86,177.25 L98.53,187.94 L99.56,162.86 L100.38,170.78 L101.36,184.70 L102.11,168.34 L102.85,186.28 L103.65,172.46 L104.40,177.75 L105.44,173.97 L106.48,174.56 L107.43,170.94 L108.09,189.21 L108.81,162.70 L109.82,175.56 L110.45,169.41 L111.24,186.77 L112.20,167.94 L113.18,181.09 L113.94,164.38 L114.95,182.28 L115.66,163.75 L116.33,176.72 L117.07,164.48 L117.80,178.07 L118.41,164.41 L119.02,180.02 L119.83,176.09 L120.48,184.16 L121.45,168.33 L122.28,182.45 L123.25,172.52 L124.14,175.25 L124.80,170.04 L125.73,174.78 L126.71,175.44 L127.61,170.91 L128.42,178.00 L129.22,145.93 L130.07,173.62 L131.10,165.48 L131.87,164.11 L132.70,160.23 L133.42,158.75 L134.20,146.96 L134.90,153.27 L135.74,139.47 L136.74,152.21 L137.48,144.34 L138.37,119.49 L139.35,113.96 L140.31,123.91 L141.15,101.90 L142.12,111.07 L143.12,91.54 L143.74,92.73 L144.50,78.64 L145.38,83.77 L146.29,60.64 L147.23,69.01 L148.07,56.52 L148.78,68.60 L149.50,61.81 L150.54,74.04 L151.31,63.03 L152.19,79.21 L152.82,73.50 L153.56,87.07 L154.17,80.42 L155.08,96.70 L155.81,85.28 L156.46,96.72 L157.15,102.79 L157.96,110.09 L158.99,119.51 L160.02,120.80 L160.88,148.33 L161.54,140.25 L162.37,144.25 L163.37,141.41 L163.98,160.09 L164.72,154.05 L165.47,157.90 L166.41,161.25 L167.07,166.99 L167.80,141.74 L168.57,157.37 L169.37,172.07 L169.99,163.82 L171.01,176.10 L171.73,166.26 L172.76,160.71 L173.72,190.36 L174.57,157.51 L175.19,186.81 L176.08,166.16 L176.71,162.93 L177.46,179.73 L178.39,172.93 L179.13,154.86 L179.91,175.09 L180.91,164.56 L181.61,158.23 L182.28,170.75 L182.92,162.81 L183.63,173.01 L184.63,157.97 L185.47,171.67 L186.22,160.25 L186.88,182.69 L187.76,163.02 L188.47,150.77 L189.27,143.62 L189.88,168.02 L190.80,160.56 L191.40,144.04 L192.42,123.61 L193.13,152.16 L193.80,121.04 L194.72,139.22 L195.67,112.79 L196.62,107.20 L197.63,95.38 L198.35,93.13 L199.26,72.01 L200.12,75.66 L200.83,59.44 L201.63,58.15 L202.52,46.04 L203.23,45.10 L204.15,46.34 L205.05,34.38 L205.77,36.14 L206.39,29.04 L207.17,33.11 L208.11,19.28 L208.80,26.95 L209.50,42.80 L210.45,30.18 L211.13,43.54 L211.92,43.06 L212.69,53.74 L213.73,58.93 L214.51,67.60 L215.51,91.42 L216.26,84.76 L217.28,104.79 L218.05,99.36 L218.80,114.61 L219.55,115.31 L220.21,122.42 L221.18,134.93 L221.97,123.65 L222.99,140.72 L223.75,151.97 L224.72,145.94 L225.34,168.53 L226.05,143.71 L227.06,159.35 L227.93,134.83 L228.86,160.46 L229.80,162.67 L230.68,169.69 L231.50,164.92 L232.52,164.64 L233.35,152.83 L234.03,163.98 L234.98,183.37 L235.72,152.84 L236.36,178.85 L237.30,163.59 L238.15,167.53 L239.19,174.04 L239.83,165.96 L240.65,173.26 L241.44,163.90 L242.34,174.79 L243.00,178.27 L243.73,153.22 L244.42,177.91 L245.13,155.14 L245.87,175.10 L246.92,164.28" fill="none" stroke="#606060" stroke-width="1.3" stroke-linejoin="round" stroke-linecap="butt" />
<path d="M14.00,177.20 L128.00,180.50 L250.00,176.50" fill="none" stroke="#000" stroke-width="1.5" stroke-linejoin="round" stroke-linecap="butt" />
<line x1="590.50" y1="10.00" x2="590.50" y2="231.00" stroke="#000" stroke-width="1.8"/>
<line x1="590.50" y1="230.40" x2="827.50" y2="230.40" stroke="#000" stroke-width="1.4"/>
<line x1="590.50" y1="10.60" x2="600.50" y2="10.60" stroke="#000" stroke-width="1.6"/>
<line x1="590.50" y1="38.00" x2="593.50" y2="38.00" stroke="#555" stroke-width="1.2"/>
<line x1="590.50" y1="65.40" x2="593.50" y2="65.40" stroke="#555" stroke-width="1.2"/>
<line x1="590.50" y1="92.80" x2="593.50" y2="92.80" stroke="#555" stroke-width="1.2"/>
<line x1="590.50" y1="120.20" x2="593.50" y2="120.20" stroke="#555" stroke-width="1.2"/>
<line x1="590.50" y1="147.60" x2="593.50" y2="147.60" stroke="#555" stroke-width="1.2"/>
<line x1="590.50" y1="175.00" x2="593.50" y2="175.00" stroke="#555" stroke-width="1.2"/>
<line x1="590.50" y1="202.40" x2="593.50" y2="202.40" stroke="#555" stroke-width="1.2"/>
<line x1="596.60" y1="230.40" x2="596.60" y2="223.00" stroke="#000" stroke-width="1.4"/>
<line x1="644.70" y1="230.40" x2="644.70" y2="223.00" stroke="#000" stroke-width="1.4"/>
<line x1="692.20" y1="230.40" x2="692.20" y2="223.00" stroke="#000" stroke-width="1.4"/>
<line x1="741.10" y1="230.40" x2="741.10" y2="223.00" stroke="#000" stroke-width="1.4"/>
<line x1="789.00" y1="230.40" x2="789.00" y2="223.00" stroke="#000" stroke-width="1.4"/>
<text x="597.20" y="250.00" font-size="17.5" text-anchor="middle">422</text>
<text x="648.80" y="250.00" font-size="17.5" text-anchor="middle">418</text>
<text x="695.80" y="250.00" font-size="17.5" text-anchor="middle">414</text>
<text x="747.80" y="250.00" font-size="17.5" text-anchor="middle">410</text>
<text x="790.20" y="250.00" font-size="17.5" text-anchor="middle">406</text>
<text x="703.50" y="272.30" font-size="17.5" text-anchor="middle" textLength="145" lengthAdjust="spacingAndGlyphs">Binding Energy/eV</text>
<path d="M591.00,128.00 L591.76,186.38 L592.57,135.78 L593.48,169.26 L594.17,154.02 L594.74,134.41 L595.72,175.65 L596.28,157.01 L596.85,165.68 L597.61,159.59 L598.54,181.21 L599.39,144.22 L600.06,123.96 L600.93,164.58 L601.59,129.17 L602.32,178.58 L603.04,162.59 L603.69,162.38 L604.45,168.13 L605.28,155.73 L605.95,188.25 L606.84,119.89 L607.50,195.50 L608.13,144.92 L608.88,159.97 L609.72,146.81 L610.46,164.83 L611.38,117.17 L612.32,189.73 L613.16,130.21 L614.16,157.42 L614.86,118.46 L615.44,168.52 L616.26,146.37 L617.01,126.22 L617.95,156.05 L618.57,159.47 L619.21,137.93 L620.18,191.86 L621.00,137.86 L621.60,165.85 L622.47,146.56 L623.39,152.96 L624.26,136.34 L624.91,165.54 L625.59,170.75 L626.23,144.62 L626.81,169.23 L627.52,133.08 L628.48,131.25 L629.32,154.77 L629.89,138.86 L630.85,148.00 L631.68,142.25 L632.56,150.66 L633.36,141.95 L634.31,151.62 L635.27,106.04 L636.13,125.40 L637.04,124.02 L637.85,158.31 L638.67,120.08 L639.51,113.78 L640.23,158.92 L641.04,131.44 L641.93,141.97 L642.75,130.15 L643.53,163.65 L644.49,115.32 L645.35,132.31 L645.97,141.86 L646.92,111.42 L647.77,160.75 L648.73,142.33 L649.46,122.30 L650.23,135.41 L651.16,109.80 L651.79,128.87 L652.46,99.94 L653.23,136.43 L654.16,128.70 L654.73,123.04 L655.30,105.20 L656.20,126.28 L656.81,82.80 L657.47,123.37 L658.04,91.67 L658.89,125.12 L659.87,108.38 L660.50,135.07 L661.26,107.34 L661.96,126.87 L662.75,111.79 L663.66,92.86 L664.24,109.46 L665.00,120.27 L665.96,74.62 L666.87,92.70 L667.63,116.49 L668.54,78.70 L669.42,146.52 L670.41,75.07 L671.31,135.53 L672.02,84.73 L672.77,105.94 L673.33,81.89 L673.91,110.20 L674.81,87.03 L675.43,106.90 L676.29,134.77 L677.06,110.68 L677.85,92.33 L678.73,132.68 L679.53,92.46 L680.25,106.86 L681.18,103.54 L681.97,89.17 L682.75,116.64 L683.31,113.18 L684.22,92.87 L684.99,114.53 L685.73,102.74 L686.69,84.22 L687.44,94.46 L688.39,87.67 L689.22,81.47 L689.83,103.01 L690.48,89.59 L691.18,96.86 L692.05,84.76 L692.83,96.84 L693.58,69.32 L694.32,95.42 L695.15,78.81 L695.94,62.26 L696.59,109.79 L697.51,93.38 L698.47,73.20 L699.47,77.87 L700.35,95.44 L700.94,59.65 L701.55,100.37 L702.41,78.52 L703.37,62.06 L703.97,87.52 L704.83,66.76 L705.41,107.35 L706.19,81.83 L706.81,95.99 L707.80,117.55 L708.40,69.38 L709.29,92.70 L710.05,66.96 L710.61,96.85 L711.54,61.51 L712.27,95.25 L712.89,52.88 L713.81,91.10 L714.74,69.42 L715.52,75.33 L716.43,111.29 L717.33,74.07 L718.06,70.25 L718.96,106.51 L719.69,75.73 L720.45,96.11 L721.16,81.37 L722.14,98.69 L722.84,72.07 L723.57,82.17 L724.40,94.50 L724.96,51.30 L725.85,95.95 L726.49,88.78 L727.08,109.38 L727.86,104.02 L728.66,112.11 L729.25,69.97 L730.14,102.03 L730.90,89.35 L731.67,130.89 L732.41,79.74 L733.23,99.71 L734.04,71.17 L734.91,107.29 L735.48,94.13 L736.37,117.56 L736.94,112.36 L737.91,81.87 L738.68,86.94 L739.34,121.43 L740.10,107.53 L741.02,80.50 L741.77,113.44 L742.35,85.76 L743.20,111.39 L743.86,74.09 L744.65,85.64 L745.63,100.55 L746.58,92.31 L747.41,50.00 L748.22,154.00 L749.05,106.17 L750.04,113.60 L750.99,89.83 L751.73,106.89 L752.33,95.70 L753.18,105.09 L754.02,90.75 L754.72,103.52 L755.65,80.08 L756.48,122.53 L757.12,100.48 L757.84,132.03 L758.84,75.94 L759.80,110.22 L760.52,97.28 L761.10,106.71 L761.87,93.38 L762.46,129.19 L763.30,93.21 L764.17,126.87 L764.78,98.96 L765.38,116.40 L766.19,134.05 L766.94,86.03 L767.62,130.02 L768.58,75.34 L769.29,108.28 L770.01,84.31 L770.82,126.54 L771.62,87.55 L772.51,94.02 L773.29,97.46 L774.10,110.68 L774.68,68.60 L775.58,115.57 L776.54,78.01 L777.37,91.17 L778.03,66.10 L778.93,90.67 L779.63,104.96 L780.48,62.08 L781.35,80.80 L782.09,102.41 L783.00,57.40 L783.95,71.76 L784.82,99.26 L785.56,66.60 L786.55,103.72 L787.18,69.37 L788.17,86.91 L788.85,62.98 L789.48,102.35 L790.24,75.21 L790.84,41.00 L791.49,74.39 L792.14,100.60 L792.82,78.18 L793.61,93.06 L794.38,50.97 L795.08,102.50 L796.06,77.73 L797.04,83.81 L797.76,65.44 L798.76,79.85 L799.41,62.84 L800.32,81.18 L801.15,70.39 L801.81,66.25 L802.59,91.32 L803.39,77.73 L804.28,92.10 L805.20,49.43 L805.87,93.63 L806.63,88.94 L807.45,87.70 L808.19,41.00 L808.78,41.00 L809.56,98.37 L810.49,76.64 L811.18,85.67 L812.05,77.21 L812.77,87.95 L813.76,79.99 L814.48,84.13 L815.14,80.15 L816.13,83.81 L816.78,79.63 L817.57,99.74 L818.27,78.39 L818.91,96.21 L819.61,110.15 L820.31,76.05 L820.90,107.26 L821.77,73.45 L822.50,93.86 L823.15,84.42 L823.76,122.15 L824.50,73.00 L825.34,56.00 L826.04,118.00 L826.60,118.00" fill="none" stroke="#5e5e5e" stroke-width="1.3" stroke-linejoin="round" stroke-linecap="butt" />
<circle cx="715" cy="136.5" r="0.9" fill="#555"/>
</svg>
</body></html>
